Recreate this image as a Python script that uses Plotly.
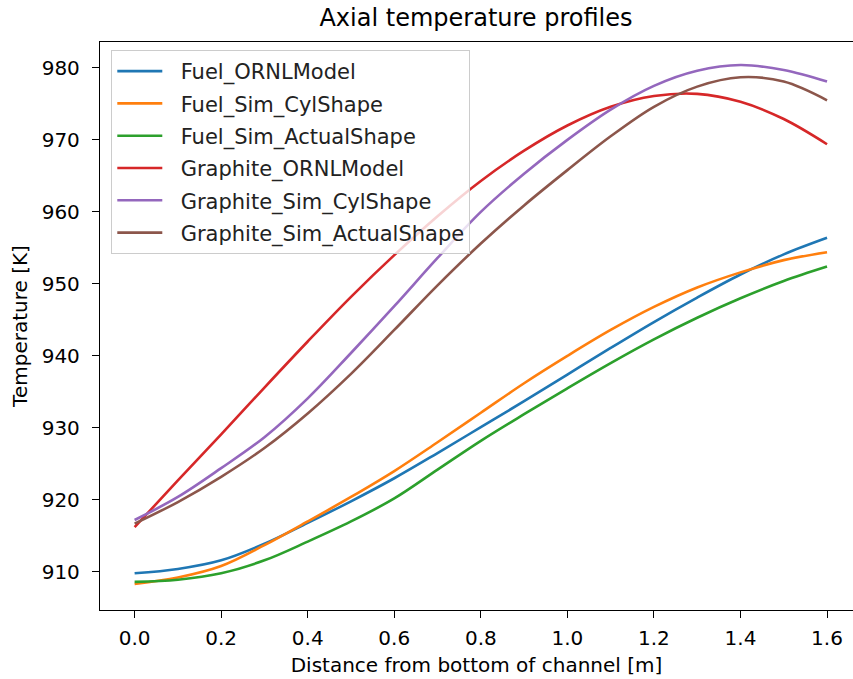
import plotly.graph_objects as go

x = [0.0, 0.1, 0.2, 0.3, 0.4, 0.5, 0.6, 0.7, 0.8, 0.9, 1.0, 1.1, 1.2, 1.3, 1.4, 1.5, 1.6]

fuel_ornl = [909.8, 910.4, 911.6, 913.9, 916.8, 919.8, 923.0, 926.5, 930.1, 933.7,
             937.4, 941.1, 944.7, 948.1, 951.3, 954.1, 956.4]
fuel_sim_cyl = [908.3, 909.2, 910.8, 913.7, 917.0, 920.4, 924.0, 928.0, 932.1, 936.2,
                940.0, 943.6, 946.8, 949.5, 951.6, 953.3, 954.4]
fuel_sim_actual = [908.6, 908.9, 909.8, 911.6, 914.2, 917.0, 920.2, 924.2, 928.2, 931.9,
                   935.5, 939.0, 942.3, 945.3, 948.0, 950.4, 952.4]
graphite_ornl = [916.2, 922.7, 929.1, 935.6, 942.0, 948.2, 954.0, 959.4, 964.3, 968.5,
                 972.0, 974.6, 976.1, 976.4, 975.3, 972.9, 969.4]
graphite_sim_cyl = [917.2, 920.4, 924.4, 928.7, 934.1, 940.4, 946.9, 953.6, 960.0, 965.3,
                    970.0, 974.2, 977.5, 979.6, 980.4, 979.7, 978.1]
graphite_sim_actual = [916.7, 919.7, 923.2, 927.2, 932.0, 937.5, 943.6, 949.8, 955.6, 960.9,
                       965.8, 970.5, 974.6, 977.4, 978.7, 978.1, 975.5]

names = ["Fuel_ORNLModel", "Fuel_Sim_CylShape", "Fuel_Sim_ActualShape",
         "Graphite_ORNLModel", "Graphite_Sim_CylShape", "Graphite_Sim_ActualShape"]
series = [fuel_ornl, fuel_sim_cyl, fuel_sim_actual, graphite_ornl, graphite_sim_cyl, graphite_sim_actual]
colors = ["#1f77b4", "#ff7f0e", "#2ca02c", "#d62728", "#9467bd", "#8c564b"]

x_ticks = [0.0, 0.2, 0.4, 0.6, 0.8, 1.0, 1.2, 1.4, 1.6]
y_ticks = [910, 920, 930, 940, 950, 960, 970, 980]

fig = go.Figure()
for n, s, c in zip(names, series, colors):
    fig.add_trace(go.Scatter(x=x, y=s, mode="lines", name="\u00a0\u00a0" + n, legendgroup=n,
                             line=dict(color=c, width=2.6, shape="spline", smoothing=1.0)))

font_family = "DejaVu Sans"
fig.update_layout(
    width=853, height=679,
    margin=dict(l=100, r=0, t=42, b=69),
    paper_bgcolor="white", plot_bgcolor="white",
    font=dict(family=font_family, size=20, color="black"),
    title=dict(text="Axial temperature profiles", x=476 / 853, xanchor="center", xref="container",
               y=1 - 18 / 679, yanchor="middle", yref="container",
               font=dict(size=24, family=font_family, color="black")),
    legend=dict(x=0.015, y=0.986, xanchor="left", yanchor="top",
                bgcolor="rgba(255,255,255,0.8)", bordercolor="#cccccc", borderwidth=1,
                font=dict(size=21, family=font_family, color="#222222"),
                tracegroupgap=2, itemwidth=45),
    showlegend=True,
)
fig.update_xaxes(range=[-0.08, 1.66], tickmode="array", tickvals=x_ticks,
                 ticktext=[f"{v:.1f}" for v in x_ticks],
                 showgrid=False, zeroline=False, showline=True, linecolor="black", linewidth=1.3,
                 mirror=True, ticks="outside", ticklen=7, tickwidth=1.3, tickcolor="black",
                 ticklabelstandoff=3,
                 title=dict(text="Distance from bottom of channel [m]", standoff=8,
                            font=dict(size=20)))
fig.update_yaxes(range=[904.7, 983.6], tickmode="array", tickvals=y_ticks,
                 showgrid=False, zeroline=False, showline=True, linecolor="black", linewidth=1.3,
                 mirror=False, ticks="outside", ticklen=7, tickwidth=1.3, tickcolor="black",
                 ticklabelstandoff=8,
                 title=dict(text="Temperature [K]", standoff=8, font=dict(size=20)))

fig.write_html("out.html")
